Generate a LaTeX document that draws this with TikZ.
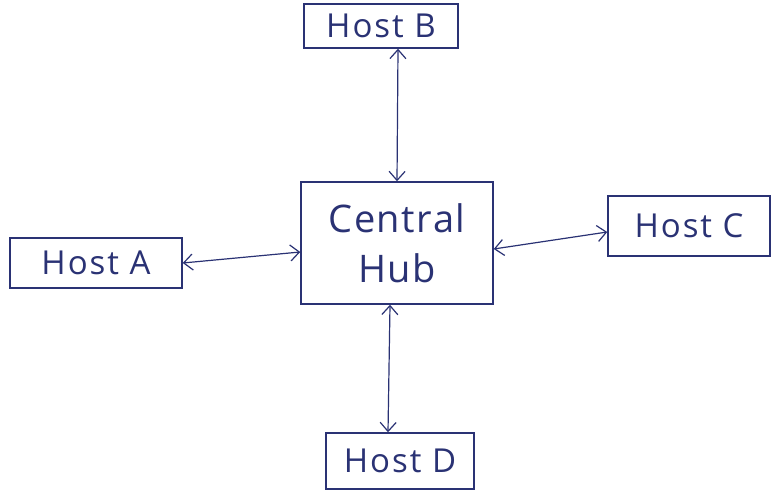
\documentclass[tikz,border=0pt]{standalone}
\usepackage{fontspec}
\setmainfont{Open Sans}
\usetikzlibrary{arrows.meta}
\definecolor{ink}{HTML}{2A3274}
\tikzset{
  hostbox/.style={draw=ink, line width=1.5pt, text=ink, rectangle, inner sep=0pt,
    font=\fontsize{33}{36}\selectfont\addfontfeatures{LetterSpace=6}},
  link/.style={draw=ink, line width=1.2pt, {Straight Barb[length=9pt,width=16pt]}-{Straight Barb[length=9pt,width=16pt]}}
}
\begin{document}
\begin{tikzpicture}[x=1pt,y=-1pt]
  \fill[white] (0,0) rectangle (778,497);
  \useasboundingbox (0,0) rectangle (778,497);

  \node[hostbox, minimum width=154pt, minimum height=44pt] (hostB) at (381,26) {Host B};
  \node[hostbox, minimum width=192pt, minimum height=122pt, align=center,
        font=\fontsize{38}{50}\selectfont\addfontfeatures{LetterSpace=4}] (hub) at (397,243) {Central\\Hub};
  \node[hostbox, minimum width=172pt, minimum height=50pt] (hostA) at (96,263) {Host A};
  \node[hostbox, minimum width=162pt, minimum height=60pt] (hostC) at (689,226) {Host C};
  \node[hostbox, minimum width=148pt, minimum height=56pt] (hostD) at (400,461) {Host D};

  \draw[link] ([xshift=17pt]hostB.south) -- (hub.north);
  \draw[link] (hostA.east) -- ([yshift=-9pt]hub.west);
  \draw[link] ([yshift=-6pt]hub.east) -- ([yshift=-6pt]hostC.west);
  \draw[link] ([xshift=-7pt]hub.south) -- ([xshift=-12pt]hostD.north);
\end{tikzpicture}
\end{document}
